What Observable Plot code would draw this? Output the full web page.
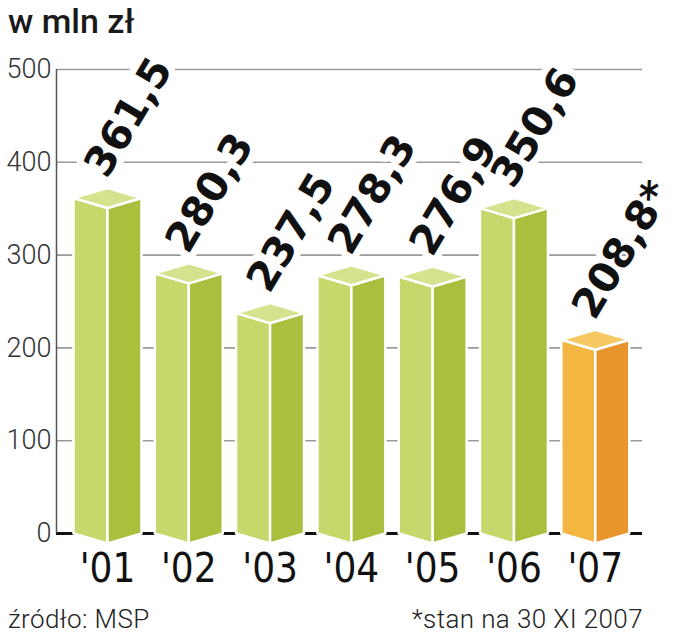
<!DOCTYPE html>
<html><head><meta charset="utf-8">
<script src="https://cdn.jsdelivr.net/npm/d3@7"></script>
<script src="https://cdn.jsdelivr.net/npm/@observablehq/plot@0.6"></script>
<style>
body{margin:0;background:#fff;}
#wrap{width:677px;height:640px;overflow:hidden;}
#title{height:45px;box-sizing:border-box;padding:4px 0 0 8px;font-family:Roboto,sans-serif;font-weight:500;font-size:34px;line-height:34px;color:#1a1a1a;}
#chart{height:550px;}
#foot{height:45px;box-sizing:border-box;padding:11px 34px 0 8px;display:flex;justify-content:space-between;font-family:Roboto,sans-serif;font-weight:300;font-size:26px;line-height:26px;color:#222;letter-spacing:0.4px;}
</style></head>
<body>
<div id="wrap">
<div id="title">w mln zł</div>
<div id="chart"></div>
<div id="foot"><span>źródło: MSP</span><span>*stan na 30 XI 2007</span></div>
</div>
<script>
const years = ["'01","'02","'03","'04","'05","'06","'07"];
const values = [361.5, 280.3, 237.5, 278.3, 276.9, 350.6, 208.8];
const notes = ["","","","","","","*"];
const yTicks = [0, 100, 200, 300, 400, 500];

const data = years.map((year, i) => ({i, year, value: values[i],
  label: values[i].toFixed(1).replace(".", ",") + notes[i], estimate: notes[i] === "*"}));

const green = {front: "#c5d86c", side: "#abbf3e", top: "#d4e38e"};
const orange = {front: "#f2b641", side: "#e8962b", top: "#f6c862"};

// 3D box geometry in data units (half width in category units, depth in value units)
const xDomain = [-0.627, 6.581];
const hw = 0.418, dd = 10.8;
const faces = [];
for (const r of data) {
  const i = r.i, v = r.value, c = r.estimate ? orange : green;
  const add = (name, pts, color) => pts.forEach(([x, y]) => faces.push({id: i + name, x, y, color}));
  add("f", [[i - hw, v], [i, v - dd], [i, -dd], [i - hw, 0], [i - hw, v]], c.front);
  add("s", [[i, v - dd], [i + hw, v], [i + hw, 0], [i, -dd], [i, v - dd]], c.side);
  add("t", [[i - hw, v], [i, v + dd], [i + hw, v], [i, v - dd], [i - hw, v]], c.top);
}

const labelOpts = {x: "i", y: "value", text: "label", rotate: -59, textAnchor: "start", lineAnchor: "middle",
  dx: -12, dy: -25, fontSize: 41, fontWeight: "bold", fontFamily: "DejaVu Sans, sans-serif"};

const plot = Plot.plot({
  width: 677,
  height: 550,
  marginTop: 24,
  marginBottom: 62,
  marginLeft: 56,
  marginRight: 35,
  x: {domain: xDomain, axis: null},
  y: {domain: [0, 500], axis: null},
  color: {type: "identity"},
  style: {background: "white"},
  marks: [
    Plot.ruleY(yTicks.filter(t => t > 0), {stroke: "#9a9a9a", strokeWidth: 1.6}),
    Plot.ruleY([0], {stroke: "#111", strokeWidth: 3}),
    Plot.text(data, {...labelOpts, fill: "white", stroke: "white", strokeWidth: 14, strokeLinejoin: "round"}),
    Plot.text(data, {...labelOpts, fill: "#111"}),
    Plot.line(faces, {x: "x", y: "y", z: "id", fill: "color", stroke: "white", strokeWidth: 2.5,
      strokeLinejoin: "round"}),
    Plot.ruleX([xDomain[0]], {y1: 0, y2: 500, stroke: "#555", strokeWidth: 1.5}),
    Plot.text(yTicks, {y: d => d, frameAnchor: "left", textAnchor: "end", dx: -5, text: d => String(d),
      fontSize: 27, fontWeight: 300, fontFamily: "Roboto, sans-serif", fill: "#333"}),
    Plot.text(data, {x: "i", y: () => 0, dy: 36, text: "year", lineAnchor: "middle",
      fontSize: 40, fontFamily: "DejaVu Sans Condensed, Liberation Sans Narrow, sans-serif", fill: "#111"})
  ]
});
document.getElementById("chart").appendChild(plot);
</script>
</body></html>
